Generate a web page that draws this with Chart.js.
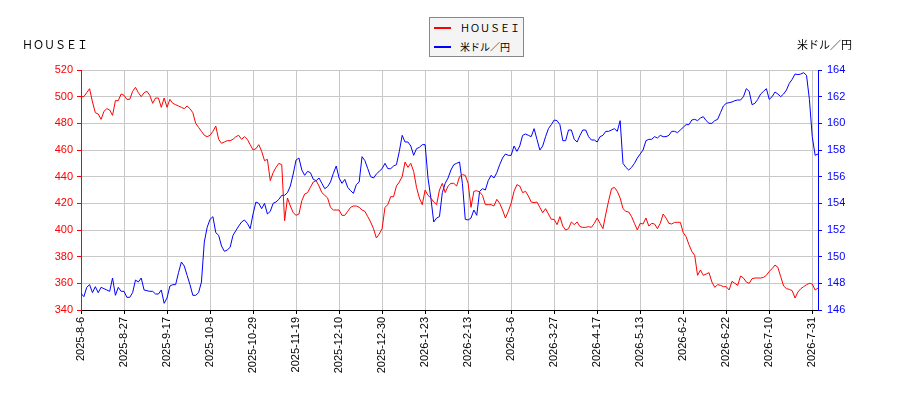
<!DOCTYPE html>
<html>
<head>
<meta charset="utf-8">
<script src="https://cdn.jsdelivr.net/npm/chart.js@4/dist/chart.umd.min.js"></script>
<style>
    body { margin: 0; background: #fff; }
    #wrap { position: relative; width: 900px; height: 400px; }
    .side_title { position: absolute; top: 36px; font: 11px "Noto Sans CJK JP", sans-serif; color: #000; line-height: 16px; }
    #title_left { left: 22px; }
    #title_right { right: 48px; }
    #legend { position: absolute; left: 429px; top: 17px; width: 93px; height: 38px; background: #f4f4f4; border: 1px solid #888; }
    #legend ul { list-style: none; margin: 0; padding: 0; }
    #legend li { position: absolute; left: 4px; height: 16px; font: 10px "Noto Sans CJK JP", sans-serif; line-height: 16px; white-space: nowrap; }
    #legend li span.swatch { display: inline-block; width: 17px; height: 2px; vertical-align: middle; margin-right: 9px; position: relative; top: -1px; }
</style>
</head>
<body>
<div id="wrap">
    <canvas id="chart_canvas" width="900" height="400"></canvas>
    <div id="title_left" class="side_title">ＨＯＵＳＥＩ</div>
    <div id="title_right" class="side_title">米ドル／円</div>
    <div id="legend"></div>
</div>
<script>
// tick labels, one every 15 trading days
const x_tick_labels = ["2025-8-6", "2025-8-27", "2025-9-17", "2025-10-8", "2025-10-29", "2025-11-19",
    "2025-12-10", "2025-12-30", "2026-1-23", "2026-2-13", "2026-3-6", "2026-3-27", "2026-4-17",
    "2026-5-13", "2026-6-2", "2026-6-22", "2026-7-10", "2026-7-31"];
const tick_every = 15;

// ＨＯＵＳＥＩ (left axis)
const housei_values = [
    500, 500, 503, 506, 496, 488, 487, 483, 489, 491, 490, 486, 497, 497, 502, 501, 498, 498, 504, 507,
    503, 500, 503, 504, 501, 495, 499, 499, 492, 499, 492, 498, 495, 494, 493, 492, 491, 493, 491, 488,
    480, 477, 474,
    471, 470, 471, 474, 478, 468, 465, 466, 467, 467, 468, 470, 471, 468, 470, 468, 464, 460, 461, 464,
    459, 452, 453, 437, 443, 447, 450, 449, 407, 424, 418, 413, 411, 412, 422, 427, 428, 432, 436, 437,
    433, 428, 426,
    424, 417, 415, 415, 415, 411, 411, 414, 417, 418, 418, 417, 415, 414, 410, 406, 401, 394, 397, 401,
    417, 419, 425, 425, 433, 436, 440, 451, 447, 450, 444, 432, 424, 419, 430, 426, 424, 421, 419, 430,
    435, 428, 433,
    435, 435, 433, 440, 441.5, 441, 435, 417, 429, 429.5, 428.5, 426, 419, 419, 419, 418, 423, 420, 415, 409,
    414, 420, 429, 434, 433, 428, 429, 425.5, 421, 420.5, 421, 417, 413, 416, 412, 408, 408, 404, 410, 403,
    400, 401, 406,
    404, 406, 402.5, 402, 402, 402.5, 402, 405, 409, 405, 401, 412, 422, 431, 432, 429, 424, 416, 414, 413.5,
    410, 405, 400, 405, 404.5, 409, 403, 405, 404.5, 401, 405, 412, 409, 405, 404.5, 405.75, 405.75, 405.75, 398, 395,
    389, 384, 381,
    366, 370, 366, 367, 368, 361, 357, 359, 358.5, 357.5, 357.5, 355, 361.5, 360, 358.5, 365.5, 364, 361, 360, 363.5,
    364, 364, 364, 364.5, 366, 369, 371, 373.75, 372, 365, 358, 356, 355.5, 354.5, 349, 353.5, 356, 357.5, 359, 360,
    359.5, 355, 356.5
];

// 米ドル／円 (right axis)
const usdjpy_values = [
    147.25, 147.0, 147.7, 147.9, 147.3, 147.75, 147.3, 147.7, 147.6, 147.5, 147.4, 148.4, 147.1, 147.7, 147.4, 147.4,
    146.95, 146.95, 147.3, 148.25, 148.1, 148.4, 147.5, 147.45, 147.4, 147.4, 147.2, 147.2, 147.5, 146.5, 146.9, 147.8,
    147.9, 147.9, 148.8, 149.6, 149.3, 148.6, 147.9, 147.1, 147.1, 147.3, 148.1,
    151.1, 152.2, 152.8, 153.0, 151.8, 151.6, 150.8, 150.4, 150.5, 150.7, 151.6, 151.95, 152.3, 152.6, 152.75, 152.5,
    152.1, 153.2, 154.1, 154.0, 153.6, 154.0, 153.2, 153.4, 154.0, 154.1, 154.3, 154.6, 154.6, 154.8, 155.3, 156.2,
    157.25, 157.4, 156.5, 156.1, 156.4, 156.3, 155.8, 155.7, 155.9, 155.5, 155.1,
    155.25, 155.6, 156.25, 156.8, 155.9, 155.5, 155.8, 155.2, 154.95, 154.75, 155.4, 155.6, 157.5, 157.2, 156.6, 156.0,
    155.9, 156.2, 156.4, 156.6, 157.0, 156.6, 156.6, 156.8, 156.9, 157.9, 159.1, 158.6, 158.6, 158.3, 157.6, 158.1,
    158.2, 158.4, 158.4, 155.9, 154.4, 152.6, 152.9, 153.0, 154.8, 155.5, 155.9,
    156.5, 156.9, 157.0, 157.1, 155.5, 152.8, 152.75, 152.9, 153.5, 153.1, 154.9, 155.1, 155.0, 155.7, 156.1, 155.9,
    156.3, 156.9, 157.4, 157.7, 157.6, 157.6, 158.3, 157.9, 158.3, 159.1, 159.2, 159.1, 159.0, 159.6, 158.8, 158.0,
    158.3, 159.0, 159.6, 159.9, 160.25, 160.2, 159.9, 158.7, 158.7, 159.5, 159.5,
    158.8, 158.6, 159.1, 159.5, 159.5, 159.0, 158.75, 158.75, 158.6, 159.0, 159.1, 159.4, 159.4, 159.5, 159.6, 159.4,
    160.2, 157.0, 156.7, 156.5, 156.7, 157.0, 157.4, 157.7, 158.0, 158.7, 158.8, 158.8, 159.0, 158.9, 159.1, 159.0,
    159.0, 159.1, 159.4, 159.4, 159.3, 159.5, 159.7, 159.9, 159.9, 160.25, 160.3,
    160.2, 160.4, 160.5, 160.2, 160.0, 160.0, 160.2, 160.3, 160.8, 161.3, 161.5, 161.55, 161.6, 161.7, 161.75, 161.75,
    162.0, 162.6, 162.4, 161.4, 161.5, 161.8, 162.2, 162.4, 162.6, 161.8, 162.0, 162.35, 162.2, 162.0, 162.2, 162.5,
    163.0, 163.3, 163.7, 163.65, 163.7, 163.8, 163.6, 161.8, 159.0, 157.6, 157.7
];

const series_names = ["ＨＯＵＳＥＩ", "米ドル／円"];
const series_colors = ["#ff0000", "#0000ff"];

const tick_font = { family: "'Liberation Sans', Arial, sans-serif", size: 11 };
const grid_color = "#c8c8c8";

function to_points(values) {
    return values.map((v, i) => ({ x: i, y: v }));
}

const chart = new Chart(document.getElementById("chart_canvas").getContext("2d"), {
    type: "line",
    data: {
        datasets: [{
            label: series_names[0],
            data: to_points(housei_values),
            borderColor: series_colors[0],
            borderWidth: 1,
            pointRadius: 0,
            tension: 0,
            yAxisID: "y"
        }, {
            label: series_names[1],
            data: to_points(usdjpy_values),
            borderColor: series_colors[1],
            borderWidth: 1,
            pointRadius: 0,
            tension: 0,
            yAxisID: "y2"
        }]
    },
    options: {
        responsive: false,
        animation: false,
        layout: { padding: { top: 70, left: 0, right: 0, bottom: 0 } },
        plugins: { legend: { display: false }, tooltip: { enabled: false } },
        scales: {
            x: {
                type: "linear",
                min: 0,
                max: housei_values.length - 1,
                afterBuildTicks: (scale) => {
                    scale.ticks = x_tick_labels.map((l, i) => ({ value: i * tick_every }));
                },
                afterFit: (scale) => { scale.height = 90; },
                ticks: {
                    autoSkip: false,
                    minRotation: 90,
                    maxRotation: 90,
                    padding: 3,
                    color: "#000",
                    font: tick_font,
                    callback: (v) => x_tick_labels[Math.round(v / tick_every)]
                },
                grid: { color: grid_color, tickColor: "#000", tickLength: 4 },
                border: { color: "#000" }
            },
            y: {
                position: "left",
                min: 340,
                max: 520,
                afterFit: (scale) => { scale.width = 81; },
                ticks: {
                    stepSize: 10,
                    padding: 4,
                    color: series_colors[0],
                    font: tick_font,
                    callback: (v) => (v % 20 === 0 ? v : "")
                },
                grid: {
                    color: (c) => (c.tick && c.tick.value % 20 === 0 ? grid_color : "rgba(0,0,0,0)"),
                    tickColor: series_colors[0],
                    tickLength: 4
                },
                border: { color: series_colors[0] }
            },
            y2: {
                position: "right",
                min: 146,
                max: 164,
                afterFit: (scale) => { scale.width = 82; },
                ticks: {
                    stepSize: 1,
                    padding: 5,
                    color: series_colors[1],
                    font: tick_font,
                    callback: (v) => (v % 2 === 0 ? v : "")
                },
                grid: { drawOnChartArea: false, tickColor: series_colors[1], tickLength: 4 },
                border: { color: series_colors[1] }
            }
        }
    }
});

// legend box drawn in html, like the reference
const legend_html = [];
legend_html.push("<ul>");
series_names.forEach((name, i) => {
    legend_html.push('<li style="top:' + (2 + i * 19) + 'px"><span class="swatch" style="background:' + series_colors[i] + '"></span>' + name + "</li>");
});
legend_html.push("</ul>");
document.getElementById("legend").innerHTML = legend_html.join("");
</script>
</body>
</html>
